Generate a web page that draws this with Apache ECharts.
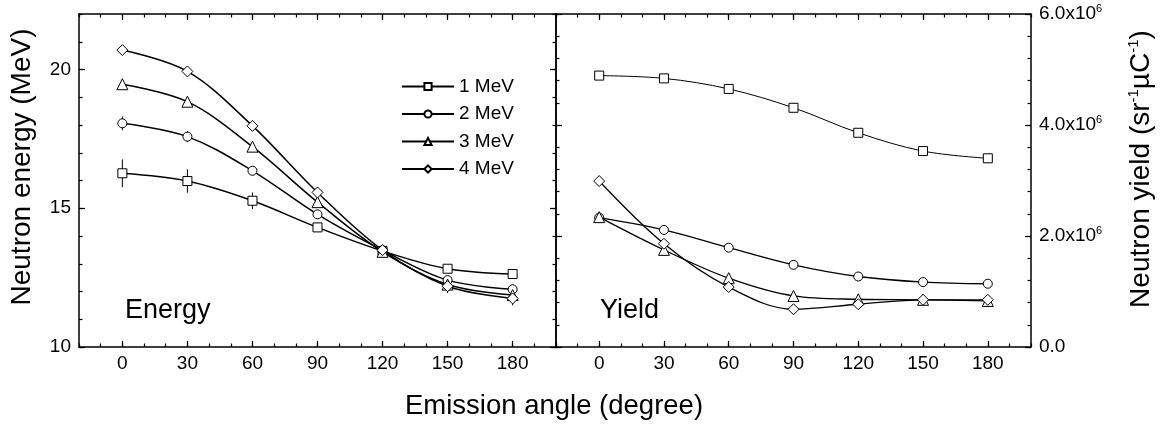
<!DOCTYPE html>
<html><head><meta charset="utf-8">
<script src="https://cdn.jsdelivr.net/npm/echarts@6/dist/echarts.min.js"></script>
<style>html,body{margin:0;padding:0;background:#fff}#c{width:1161px;height:425px}</style>
</head><body><div id="c"></div>
<script>
// ---- data ----
const angles = [0, 30, 60, 90, 120, 150, 180];
const seriesNames = ['1 MeV', '2 MeV', '3 MeV', '4 MeV'];
const energy1 = [16.26, 15.98, 15.27, 14.31, 13.46, 12.82, 12.63];
const energy2 = [18.06, 17.58, 16.35, 14.78, 13.49, 12.41, 12.08];
const energy3 = [19.47, 18.84, 17.22, 15.22, 13.43, 12.25, 11.87];
const energy4 = [20.70, 19.93, 17.97, 15.57, 13.49, 12.19, 11.75];
const energyErr1 = [0.50, 0.42, 0.30, 0.12, 0.10, 0.08, 0.08];
const energyErr2 = [0.25, 0.20, 0.10, 0.10, 0.10, 0.10, 0.10];
const energyErr3 = [0.15, 0.15, 0.10, 0.10, 0.15, 0.10, 0.15];
const energyErr4 = [0.10, 0.10, 0.10, 0.20, 0.20, 0.25, 0.25];
const yield1 = [4.89e6, 4.84e6, 4.65e6, 4.31e6, 3.86e6, 3.53e6, 3.40e6];
const yield2 = [2.33e6, 2.11e6, 1.79e6, 1.48e6, 1.27e6, 1.17e6, 1.14e6];
const yield3 = [2.34e6, 1.75e6, 1.24e6, 0.92e6, 0.86e6, 0.85e6, 0.83e6];
const yield4 = [2.99e6, 1.86e6, 1.08e6, 0.68e6, 0.77e6, 0.85e6, 0.85e6];
const xTickLabels = [0, 30, 60, 90, 120, 150, 180];
const energyTickLabels = [10, 15, 20];
const yieldTickLabels = [0, 2e6, 4e6, 6e6];

// ---- style ----
const FONT = 'Liberation Sans, Arial, sans-serif';
const BLACK = '#000';
const symbols = ['rect', 'circle', 'triangle', 'diamond'];
const symbolSizes = [9, 9, 11, 11];

const chart = echarts.init(document.getElementById('c'), null, {renderer: 'canvas'});

const grids = [
  {left: 79, top: 14, width: 477, height: 333},
  {left: 556, top: 14, width: 475, height: 333}
];

function xAxesFor(g) {
  const base = {gridIndex: g, type: 'value', min: -20, max: 200, splitLine: {show: false}};
  const line = {show: true, onZero: false, lineStyle: {color: BLACK, width: 1.5}};
  const majorTick = {show: true, inside: true, length: 6, customValues: xTickLabels, lineStyle: {color: BLACK, width: 1.2}};
  const minorTick = {show: true, inside: true, length: 3.5, lineStyle: {color: BLACK, width: 1.2}};
  return [
    Object.assign({}, base, {position: 'bottom', axisLine: line, axisTick: majorTick,
      axisLabel: {show: true, customValues: xTickLabels, fontSize: 19, fontFamily: FONT, color: BLACK, margin: 7}}),
    Object.assign({}, base, {position: 'bottom', interval: 10, axisLine: {show: false, onZero: false}, axisTick: minorTick, axisLabel: {show: false}}),
    Object.assign({}, base, {position: 'top', axisLine: line, axisTick: majorTick, axisLabel: {show: false}}),
    Object.assign({}, base, {position: 'top', interval: 10, axisLine: {show: false, onZero: false}, axisTick: minorTick, axisLabel: {show: false}})
  ];
}

const line = {show: true, onZero: false, lineStyle: {color: BLACK, width: 1.5}};
const majorTickBase = {show: true, inside: true, length: 6, lineStyle: {color: BLACK, width: 1.2}};
const minorTickBase = {show: true, inside: true, length: 3.5, lineStyle: {color: BLACK, width: 1.2}};

const yAxes = [
  // grid 0 left (labels)
  {gridIndex: 0, type: 'value', position: 'left', min: 10, max: 22, interval: 5, splitLine: {show: false},
   axisLine: line, axisTick: Object.assign({}, majorTickBase, {customValues: energyTickLabels}),
   axisLabel: {show: true, customValues: energyTickLabels, fontSize: 19, fontFamily: FONT, color: BLACK, margin: 8}},
  {gridIndex: 0, type: 'value', position: 'left', min: 10, max: 22, interval: 1, splitLine: {show: false},
   axisLine: {show: false, onZero: false}, axisTick: minorTickBase, axisLabel: {show: false}},
  {gridIndex: 0, type: 'value', position: 'right', min: 10, max: 22, interval: 5, splitLine: {show: false},
   axisLine: line, axisTick: Object.assign({}, majorTickBase, {customValues: energyTickLabels}), axisLabel: {show: false}},
  {gridIndex: 0, type: 'value', position: 'right', min: 10, max: 22, interval: 1, splitLine: {show: false},
   axisLine: {show: false, onZero: false}, axisTick: minorTickBase, axisLabel: {show: false}},
  // grid 1 right (labels)
  {gridIndex: 1, type: 'value', position: 'right', min: 0, max: 6e6, interval: 2e6, splitLine: {show: false},
   axisLine: line, axisTick: majorTickBase,
   axisLabel: {show: true, fontSize: 19, fontFamily: FONT, color: BLACK, margin: 8, align: 'left',
     formatter: v => v === 0 ? '0.0' : '{m|' + (v / 1e6).toFixed(1) + 'x10}{s|6}',
     rich: {m: {fontSize: 19, fontFamily: FONT, color: BLACK}, s: {fontSize: 11, fontFamily: FONT, color: BLACK, padding: [0, 0, 10, 0]}}}},
  {gridIndex: 1, type: 'value', position: 'right', min: 0, max: 6e6, interval: 4e5, splitLine: {show: false},
   axisLine: {show: false, onZero: false}, axisTick: minorTickBase, axisLabel: {show: false}},
  {gridIndex: 1, type: 'value', position: 'left', min: 0, max: 6e6, interval: 2e6, splitLine: {show: false},
   axisLine: line, axisTick: majorTickBase, axisLabel: {show: false}},
  {gridIndex: 1, type: 'value', position: 'left', min: 0, max: 6e6, interval: 4e5, splitLine: {show: false},
   axisLine: {show: false, onZero: false}, axisTick: minorTickBase, axisLabel: {show: false}}
];

const energySets = [energy1, energy2, energy3, energy4];
const energyErrs = [energyErr1, energyErr2, energyErr3, energyErr4];
const yieldSets = [yield1, yield2, yield3, yield4];

function errSeries(vals, errs) {
  return {
    type: 'custom', xAxisIndex: 0, yAxisIndex: 0, silent: true, z: 1,
    data: angles.map((a, i) => [a, vals[i], errs[i]]),
    encode: {x: 0, y: 1},
    renderItem: (params, api) => {
      const x = api.value(0), y = api.value(1), e = api.value(2);
      const p1 = api.coord([x, y - e]), p2 = api.coord([x, y + e]);
      return {type: 'line', shape: {x1: p1[0], y1: p1[1], x2: p2[0], y2: p2[1]},
        style: {stroke: BLACK, lineWidth: 1}};
    }
  };
}

function lineSeries(name, vals, k, xi, yi, lw) {
  return {
    name: name, type: 'line', xAxisIndex: xi, yAxisIndex: yi, z: 3,
    data: angles.map((a, i) => [a, vals[i]]),
    smooth: 0.35, symbol: symbols[k], symbolSize: symbolSizes[k], showAllSymbol: true,
    lineStyle: {color: BLACK, width: lw},
    itemStyle: {color: '#fff', borderColor: BLACK, borderWidth: 1},
    emphasis: {disabled: true}
  };
}

const series = [];
energySets.forEach((s, k) => series.push(errSeries(s, energyErrs[k])));
energySets.forEach((s, k) => series.push(lineSeries(seriesNames[k], s, k, 0, 0, 1.5)));
yieldSets.forEach((s, k) => series.push(lineSeries(seriesNames[k], s, k, 4, 4, k === 0 ? 1 : 1.3)));

chart.setOption({
  animation: false,
  backgroundColor: '#fff',
  grid: grids,
  xAxis: xAxesFor(0).concat(xAxesFor(1)),
  yAxis: yAxes,
  legend: {
    data: seriesNames, orient: 'vertical', left: 396, top: 72,
    itemWidth: 52, itemHeight: 9, itemGap: 8.5, selectedMode: false,
    textStyle: {fontSize: 19, fontFamily: FONT, color: BLACK}
  },
  graphic: [
    {type: 'text', x: 125, y: 310.5, style: {text: 'Energy', fontSize: 27, fontFamily: FONT, fill: BLACK, align: 'left', verticalAlign: 'middle'}},
    {type: 'text', x: 600, y: 310.5, style: {text: 'Yield', fontSize: 27, fontFamily: FONT, fill: BLACK, align: 'left', verticalAlign: 'middle'}},
    {type: 'text', x: 554, y: 406.5, style: {text: 'Emission angle (degree)', fontSize: 27.5, fontFamily: FONT, fill: BLACK, align: 'center', verticalAlign: 'middle'}},
    {type: 'text', x: 22, y: 167, rotation: Math.PI / 2,
     style: {text: 'Neutron energy (MeV)', fontSize: 28, fontFamily: FONT, fill: BLACK, align: 'center', verticalAlign: 'middle'}},
    {type: 'text', x: 1141, y: 169, rotation: Math.PI / 2,
     style: {text: '{n|Neutron yield (sr}{s|-1}{n|µC}{s|-1}{n|)}', fontSize: 28, fontFamily: FONT, fill: BLACK, align: 'center', verticalAlign: 'middle',
       rich: {n: {fontSize: 28, fontFamily: FONT, fill: BLACK}, s: {fontSize: 15, fontFamily: FONT, fill: BLACK, padding: [0, 0, 14, 0]}}}}
  ],
  series: series
});
</script>
</body></html>
